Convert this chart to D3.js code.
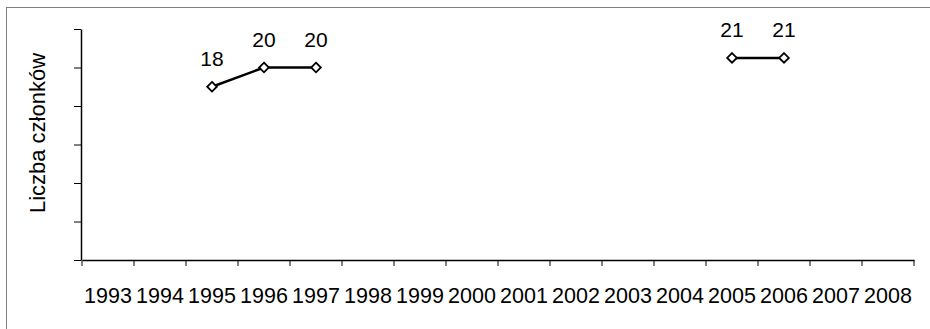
<!DOCTYPE html>
<html><head><meta charset="utf-8">
<script src="https://cdn.jsdelivr.net/npm/d3@7"></script>
<style>body{margin:0;background:#fff}svg{display:block}</style>
</head><body>
<svg id="c" width="930" height="329"></svg>
<script>
const years = ["1993","1994","1995","1996","1997","1998","1999","2000","2001","2002","2003","2004","2005","2006","2007","2008"];
const members = [null,null,18,20,20,null,null,null,null,null,null,null,21,21,null,null];
const yTicks = [0,4,8,12,16,20,24];
const yTitle = "Liczba członków";

const svg = d3.select("#c");
const font = "'Liberation Sans', Arial, sans-serif";
svg.append("rect").attr("x",6.5).attr("y",7.5).attr("width",940).attr("height",340)
  .attr("fill","none").attr("stroke","#808080").attr("stroke-width",1);

const x = d3.scaleBand().domain(years).range([82,914]);
const y = d3.scaleLinear().domain([0,24]).range([260,29]);

const gy = svg.append("g").attr("transform","translate(81,0)")
  .call(d3.axisLeft(y).tickValues(yTicks).tickFormat("").tickSize(7).tickSizeOuter(0));
gy.select(".domain").attr("stroke","#000").attr("stroke-width",1.5);
gy.selectAll(".tick line").attr("stroke","#000");

const gx = svg.append("g").attr("transform","translate(0,260)")
  .call(d3.axisBottom(x).tickSize(0).tickSizeOuter(0).tickPadding(0));
gx.select(".domain").attr("stroke","#000").attr("stroke-width",1.5);
gx.selectAll(".tick text").attr("font-family",font).attr("font-size",21.5).attr("fill","#000")
  .attr("y",43).attr("dy",0);
gx.selectAll(".bt").data(years.concat(["end"])).enter().append("line")
  .attr("x1",(d,i)=>x.range()[0]+i*x.bandwidth()).attr("x2",(d,i)=>x.range()[0]+i*x.bandwidth())
  .attr("y1",0).attr("y2",6).attr("stroke","#000");

svg.append("text").attr("transform","translate(45,133) rotate(-90)")
  .attr("text-anchor","middle").attr("font-family",font).attr("font-size",22).text(yTitle);

const data = years.map((yr,i)=>({yr, v:members[i]}));
const line = d3.line().defined(d=>d.v!=null).x(d=>x(d.yr)+x.bandwidth()/2).y(d=>y(d.v));
svg.append("path").datum(data).attr("d",line).attr("fill","none").attr("stroke","#000").attr("stroke-width",2.5);

const pts = data.filter(d=>d.v!=null);
svg.selectAll(".m").data(pts).enter().append("path")
  .attr("d",d3.symbol().type(d3.symbolDiamond2).size(60))
  .attr("transform",d=>`translate(${x(d.yr)+x.bandwidth()/2},${y(d.v)})`)
  .attr("fill","#fff").attr("stroke","#000").attr("stroke-width",1.8);
svg.selectAll(".lbl").data(pts).enter().append("text")
  .attr("x",d=>x(d.yr)+x.bandwidth()/2).attr("y",d=>y(d.v)-21)
  .attr("text-anchor","middle").attr("font-family",font).attr("font-size",21).text(d=>d.v);
</script>
</body></html>
